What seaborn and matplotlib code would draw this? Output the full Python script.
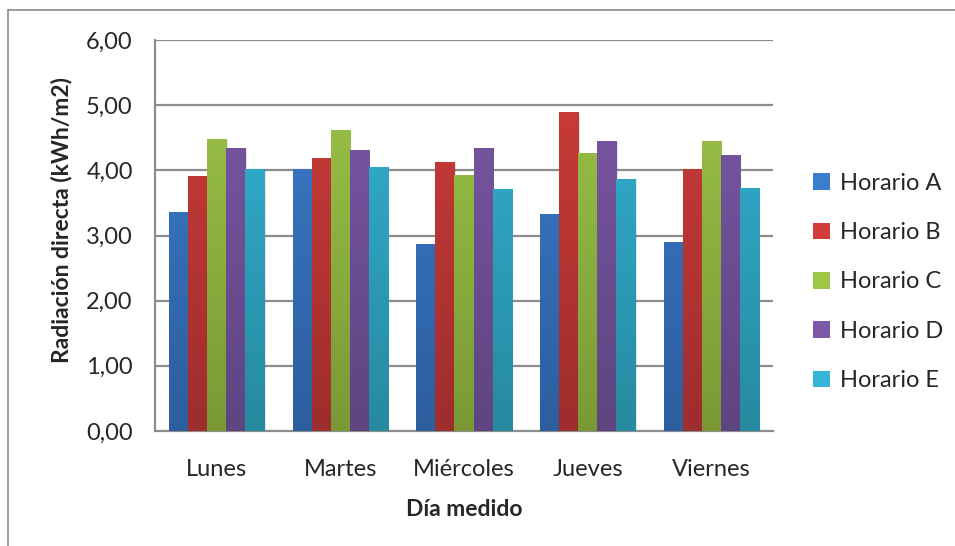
import numpy as np
import pandas as pd
import matplotlib
matplotlib.use("Agg")
import matplotlib.pyplot as plt
import matplotlib.colors as mcolors
from matplotlib.patches import Patch
from matplotlib.ticker import FuncFormatter, FixedLocator
from matplotlib.lines import Line2D
import seaborn as sns

# Datos
dias = ["Lunes", "Martes", "Miércoles", "Jueves", "Viernes"]
horarios = ["Horario A", "Horario B", "Horario C", "Horario D", "Horario E"]
horario_a = [3.36, 4.02, 2.87, 3.33, 2.90]
horario_b = [3.91, 4.19, 4.13, 4.89, 4.02]
horario_c = [4.48, 4.62, 3.93, 4.27, 4.45]
horario_d = [4.34, 4.31, 4.34, 4.45, 4.24]
horario_e = [4.02, 4.05, 3.71, 3.87, 3.73]

colores_top = ["#3B7DCE", "#D03D39", "#9EC749", "#7D59A9", "#35B4D8"]
colores_bot = ["#2D5E9E", "#9E2D2D", "#7A9936", "#5E4580", "#268AA0"]

valores = [horario_a, horario_b, horario_c, horario_d, horario_e]
df = pd.DataFrame({
    "Día": [d for _ in horarios for d in dias],
    "Horario": [h for h in horarios for _ in dias],
    "Valor": [v for serie in valores for v in serie],
})

sns.set_style("white")
plt.rcParams["font.family"] = ["Lato", "DejaVu Sans"]

fig = plt.figure(figsize=(9.55, 5.46), dpi=100)
ax = fig.add_axes([155 / 955, 1 - 431 / 546, 618 / 955, 391 / 546])

sns.barplot(data=df, x="Día", y="Valor", hue="Horario", order=dias, hue_order=horarios,
            palette=colores_top, saturation=1, width=0.77, legend=False, ax=ax, zorder=3)

ax.set_xlim(-0.5, 4.5)
ax.set_ylim(0, 6)

# degradado vertical en cada barra
for i, cont in enumerate(ax.containers):
    cmap = mcolors.LinearSegmentedColormap.from_list("g", [colores_bot[i], colores_top[i]])
    grad = np.linspace(0, 1, 256).reshape(-1, 1)
    for bar in cont:
        x0, y0 = bar.get_x(), bar.get_y()
        w, h = bar.get_width(), bar.get_height()
        # sombra suave
        ax.add_patch(plt.Rectangle((x0 + 0.012, y0), w, h - 0.02, facecolor="#000000",
                                   alpha=0.10, edgecolor="none", zorder=2))
        im = ax.imshow(grad, extent=(x0, x0 + w, 0, 6), origin="lower", cmap=cmap,
                       aspect="auto", zorder=3, interpolation="bilinear")
        im.set_clip_path(bar)
        bar.set_facecolor("none")
        bar.set_edgecolor("none")

ax.set_xlim(-0.5, 4.5)
ax.set_ylim(0, 6)

# rejilla
for y in range(1, 7):
    ax.axhline(y, color="#8C8C8C", lw=1.6, zorder=1)

ax.yaxis.set_major_formatter(FuncFormatter(lambda v, p: f"{v:.2f}".replace(".", ",")))
ax.set_yticks(range(0, 7))
ax.tick_params(axis="y", length=7, width=1.2, color="#8C8C8C", labelsize=17, pad=9)
ax.tick_params(axis="x", which="major", length=0, labelsize=17, pad=20)
ax.xaxis.set_minor_locator(FixedLocator(np.arange(-0.5, 5, 1)))
ax.tick_params(axis="x", which="minor", length=7, width=1.2, color="#8C8C8C")

for s in ["top", "right"]:
    ax.spines[s].set_visible(False)
for s in ["left", "bottom"]:
    ax.spines[s].set_color("#8C8C8C")
    ax.spines[s].set_linewidth(1.6)

ax.set_xlabel("Día medido", fontsize=16.5, fontweight="bold", labelpad=14)
ax.set_ylabel("Radiación directa (kWh/m2)", fontsize=16.5, fontweight="bold")
ax.yaxis.set_label_coords(-0.134, 0.54)

handles = [Patch(facecolor=c, edgecolor="none") for c in colores_top]
fig.legend(handles, horarios, loc="center left", bbox_to_anchor=(813 / 955, 1 - 282 / 546),
           frameon=False, fontsize=17, handlelength=0.7, handleheight=0.7,
           handletextpad=0.45, labelspacing=1.2, borderpad=0, borderaxespad=0)

# marco exterior (solo arriba e izquierda visibles)
fig.add_artist(Line2D([8 / 955, 1], [1 - 10 / 546, 1 - 10 / 546], color="#8C8C8C", lw=1.2))
fig.add_artist(Line2D([8 / 955, 8 / 955], [0, 1 - 10 / 546], color="#8C8C8C", lw=1.2))

fig.savefig("out.png", dpi=100)
